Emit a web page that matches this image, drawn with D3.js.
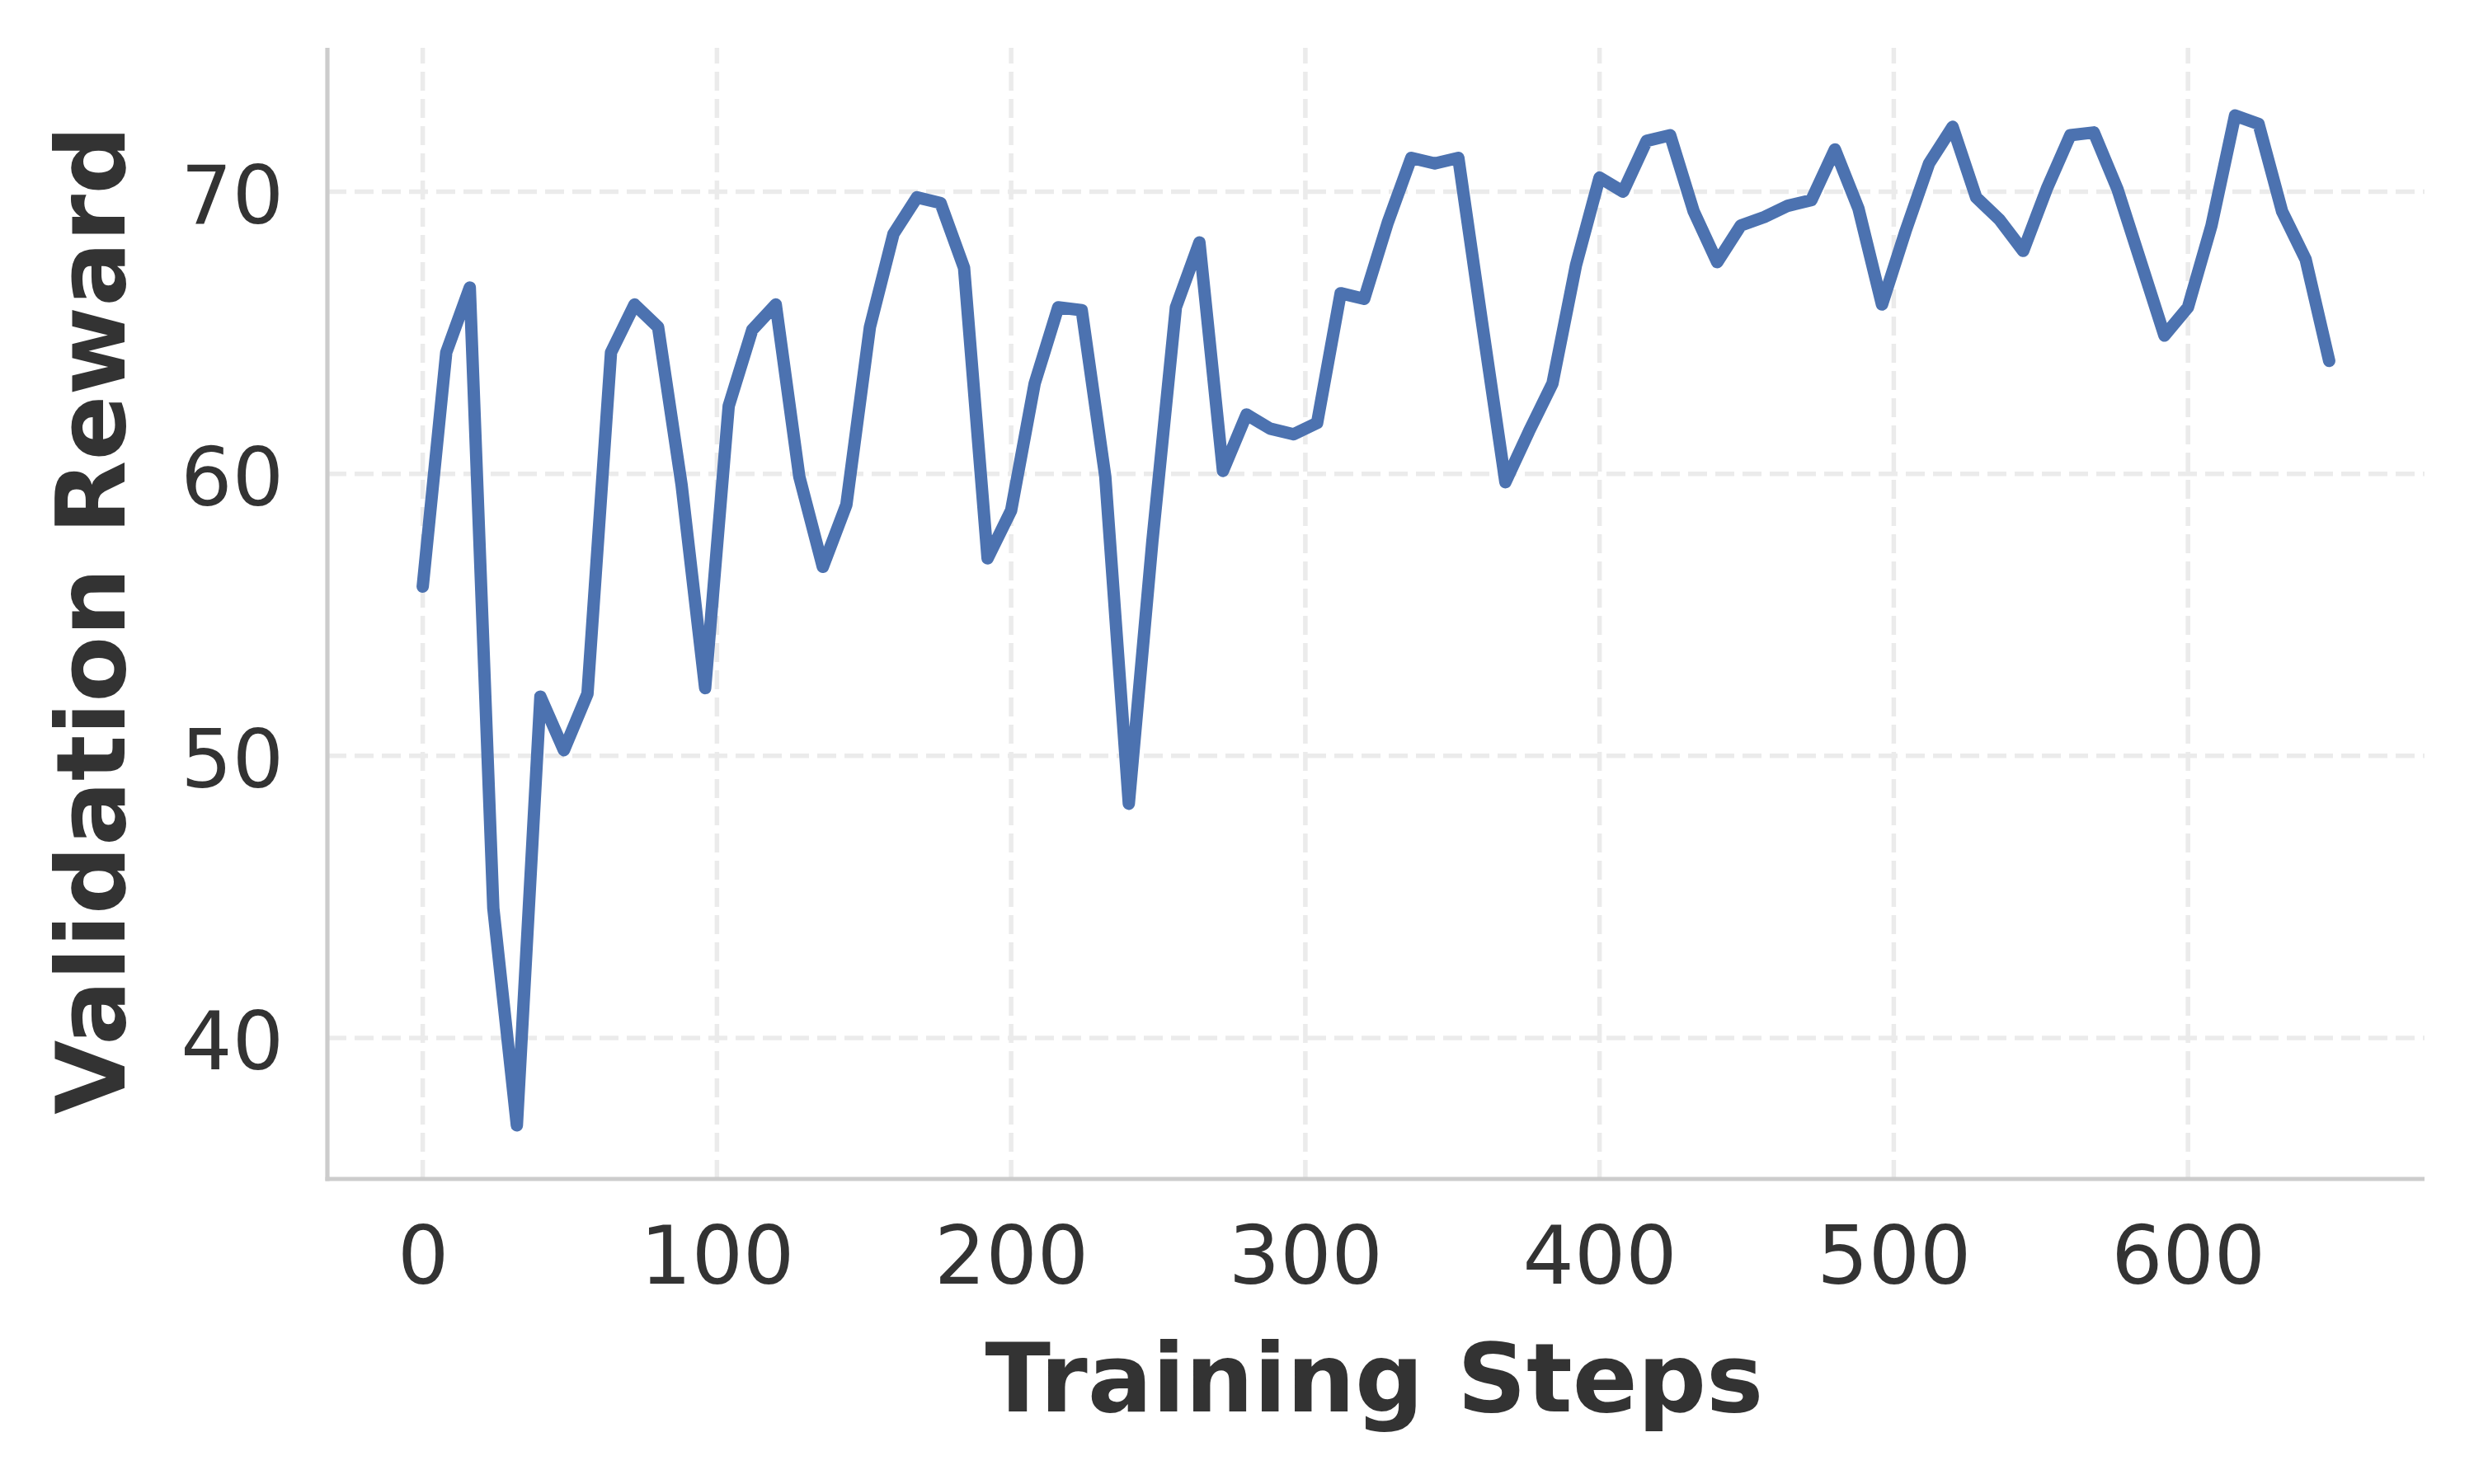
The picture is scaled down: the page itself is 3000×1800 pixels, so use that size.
<!DOCTYPE html>
<html>
<head>
<meta charset="utf-8">
<script src="https://cdn.jsdelivr.net/npm/d3@7/dist/d3.min.js"></script>
<style>
  html, body { margin: 0; padding: 0; background: #ffffff; }
  svg { display: block; }
</style>
</head>
<body>
<svg id="chart" width="3000" height="1800"></svg>
<script>
const steps = [0, 8, 16, 24, 32, 40, 48, 56, 64, 72, 80, 88, 96, 104, 112, 120, 128, 136, 144, 152,
  160, 168, 176, 184, 192, 200, 208, 216, 224, 232, 240, 248, 256, 264, 272, 280, 288, 296, 304, 312,
  320, 328, 336, 344, 352, 360, 368, 376, 384, 392, 400, 408, 416, 424, 432, 440, 448, 456, 464, 472,
  480, 488, 496, 504, 512, 520, 528, 536, 544, 552, 560, 568, 576, 584, 592, 600, 608, 616, 624, 632,
  640, 648];
const rewards = [56.0, 64.3, 66.6, 44.6, 36.9, 52.1, 50.2, 52.2, 64.3, 66.0, 65.2, 59.6, 52.4, 62.4, 65.1, 66.0, 59.9, 56.7, 58.9, 65.2,
  68.5, 69.8, 69.6, 67.3, 57.0, 58.7, 63.2, 65.9, 65.8, 59.9, 48.3, 57.6, 65.9, 68.2, 60.1, 62.1, 61.6, 61.4, 61.8, 66.4,
  66.2, 68.9, 71.2, 71.0, 71.2, 65.4, 59.7, 61.5, 63.2, 67.4, 70.5, 70.0, 71.8, 72.0, 69.3, 67.5, 68.8, 69.1, 69.5, 69.7,
  71.5, 69.4, 66.0, 68.6, 71.0, 72.3, 69.8, 69.0, 67.9, 70.1, 72.0, 72.1, 70.1, 67.5, 64.9, 65.9, 68.8, 72.7, 72.4, 69.3,
  67.6, 64.0];
const xTicks = [0, 100, 200, 300, 400, 500, 600];
const yTicks = [40, 50, 60, 70];
const xLabel = "Training Steps";
const yLabel = "Validation Reward";

(function () {
const data = steps.map((s, i) => ({ step: s, reward: rewards[i] }));

const pLeft = 397, pRight = 2940, pTop = 58, pBottom = 1430;
const x = d3.scaleLinear().domain([-32.4, 680.4]).range([pLeft, pRight]);
const y = d3.scaleLinear().domain([35.0, 75.1]).range([pBottom, pTop]);

const svg = d3.select("#chart");
const font = "'DejaVu Sans', 'Liberation Sans', sans-serif";
const textColor = "#333333";

// grid
const grid = svg.append("g");
grid.selectAll("line.h").data(yTicks).join("line")
  .attr("class", "h")
  .attr("x1", pLeft).attr("x2", pRight)
  .attr("y1", d => y(d)).attr("y2", d => y(d))
  .attr("stroke", "#ebebeb").attr("stroke-width", 5.5)
  .attr("stroke-dasharray", "23,10");
grid.selectAll("line.v").data(xTicks).join("line")
  .attr("class", "v")
  .attr("x1", d => x(d)).attr("x2", d => x(d))
  .attr("y1", pBottom).attr("y2", pTop)
  .attr("stroke", "#ebebeb").attr("stroke-width", 5.5)
  .attr("stroke-dasharray", "23,10");

// line
const line = d3.line().x(d => x(d.step)).y(d => y(d.reward));
svg.append("path").datum(data)
  .attr("d", line)
  .attr("fill", "none")
  .attr("stroke", "#4c72b0")
  .attr("stroke-width", 15)
  .attr("stroke-linejoin", "round")
  .attr("stroke-linecap", "round");

// axes tick labels
const xAxis = d3.axisBottom(x).tickValues(xTicks).tickSize(0).tickPadding(0).tickFormat(d3.format("d"));
const gx = svg.append("g").attr("transform", `translate(0,${pBottom})`).call(xAxis);
gx.select(".domain").remove();
gx.selectAll("text")
  .attr("font-family", font).attr("font-size", 98).attr("fill", textColor)
  .attr("dy", null).attr("y", 127);

const yAxis = d3.axisLeft(y).tickValues(yTicks).tickSize(0).tickPadding(0).tickFormat(d3.format("d"));
const gy = svg.append("g").attr("transform", `translate(${pLeft},0)`).call(yAxis);
gy.select(".domain").remove();
gy.selectAll("text")
  .attr("font-family", font).attr("font-size", 98).attr("fill", textColor)
  .attr("dy", null).attr("x", -53).attr("y", 38).attr("text-anchor", "end");

// spines
svg.append("line").attr("x1", pLeft).attr("x2", pLeft).attr("y1", pTop).attr("y2", pBottom + 2.5)
  .attr("stroke", "#cccccc").attr("stroke-width", 5.2);
svg.append("line").attr("x1", pLeft - 2.5).attr("x2", pRight).attr("y1", pBottom).attr("y2", pBottom)
  .attr("stroke", "#cccccc").attr("stroke-width", 5.2);

// labels
svg.append("text")
  .attr("x", (pLeft + pRight) / 2 - 2).attr("y", 1712)
  .attr("text-anchor", "middle")
  .attr("font-family", font).attr("font-size", 116.5).attr("font-weight", "bold")
  .attr("fill", textColor)
  .text(xLabel);

svg.append("text")
  .attr("transform", `translate(151, ${(pTop + pBottom) / 2 + 8}) rotate(-90)`)
  .attr("text-anchor", "middle")
  .attr("font-family", font).attr("font-size", 116.5).attr("font-weight", "bold")
  .attr("fill", textColor)
  .text(yLabel);
})();
</script>
</body>
</html>
